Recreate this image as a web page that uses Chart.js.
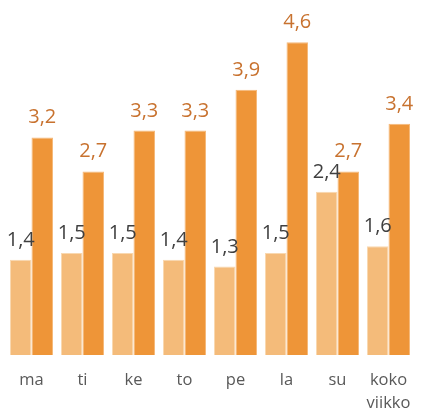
<!DOCTYPE html>
<html>
<head>
<meta charset="utf-8">
<script src="https://cdn.jsdelivr.net/npm/chart.js@4"></script>
<style>
  body { margin: 0; background: #fff; }
  #wrap { width: 429px; height: 410px; position: relative; }
</style>
</head>
<body>
<div id="wrap"><canvas id="chart"></canvas></div>
<script>
// päivät
const categories = ["ma", "ti", "ke", "to", "pe", "la", "su", "koko viikko"];
const lightValues = [1.4, 1.5, 1.5, 1.4, 1.3, 1.5, 2.4, 1.6];
const darkValues = [3.2, 2.7, 3.3, 3.3, 3.9, 4.6, 2.7, 3.4];

const lightColor = "#F4BB7A";
const darkColor = "#EE9538";
const lightLabelColor = "#404040";
const darkLabelColor = "#C8722F";

// arvot palkkien päälle, desimaalipilkulla
const valueLabels = {
    id: "valueLabels",
    afterDatasetsDraw(chart) {
        const ctx = chart.ctx;
        ctx.save();
        ctx.font = "20px 'Open Sans'";
        ctx.textAlign = "center";
        ctx.textBaseline = "alphabetic";
        chart.data.datasets.forEach((ds, i) => {
            const meta = chart.getDatasetMeta(i);
            ctx.fillStyle = ds.labelColor;
            meta.data.forEach((bar, j) => {
                const txt = ds.data[j].toFixed(1).replace(".", ",");
                ctx.fillText(txt, bar.x, bar.y - 14);
            });
        });
        ctx.restore();
    }
};

document.addEventListener("DOMContentLoaded", function() {
    const ctx = document.getElementById("chart").getContext("2d");

    new Chart(ctx, {
        type: "bar",
        data: {
            labels: categories.map(c => c.split(" ")),
            datasets: [{
                data: lightValues,
                backgroundColor: lightColor,
                borderColor: "#F9D8B0",
                borderWidth: 1,
                labelColor: lightLabelColor
            }, {
                data: darkValues,
                backgroundColor: darkColor,
                borderColor: "#F5B97A",
                borderWidth: 1,
                labelColor: darkLabelColor
            }]
        },
        options: {
            responsive: true,
            maintainAspectRatio: false,
            animation: false,
            layout: {
                padding: { top: 15, left: 6, right: 15, bottom: 0 }
            },
            datasets: {
                bar: { categoryPercentage: 0.843, barPercentage: 1 }
            },
            plugins: {
                legend: { display: false },
                tooltip: { enabled: false }
            },
            scales: {
                y: {
                    display: false,
                    min: 0,
                    max: 5
                },
                x: {
                    grid: { display: false },
                    border: { display: false },
                    ticks: {
                        color: "#595959",
                        font: { family: "'Open Sans'", size: 16.5, lineHeight: 1.4 },
                        padding: 6,
                        maxRotation: 0,
                        autoSkip: false
                    },
                    afterFit(scale) {
                        scale.height = 55;
                    }
                }
            }
        },
        plugins: [valueLabels]
    });
});
</script>
</body>
</html>
